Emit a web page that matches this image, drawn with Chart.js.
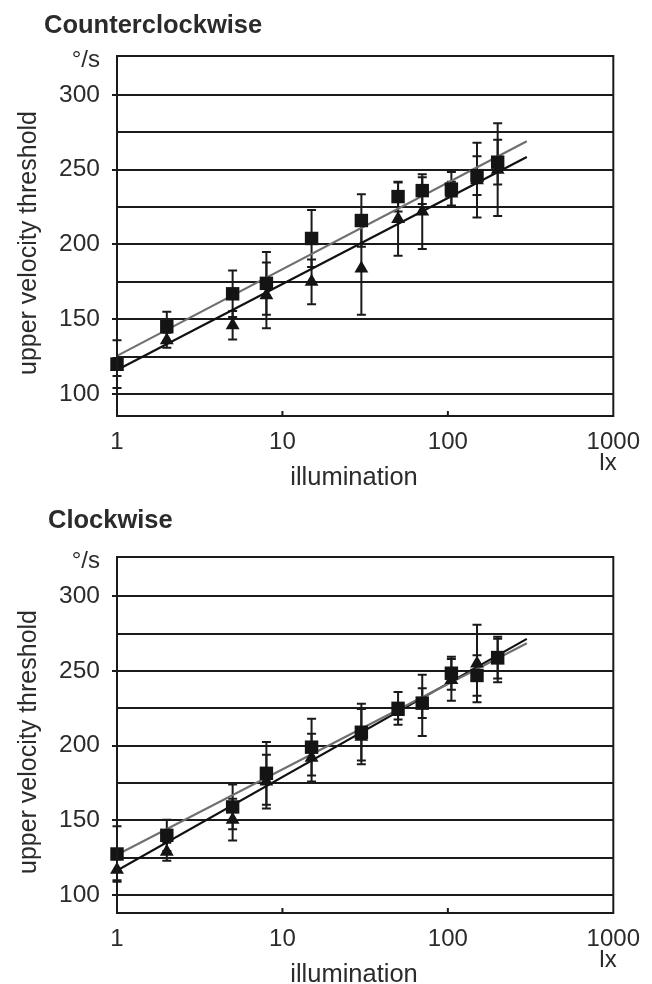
<!DOCTYPE html>
<html>
<head>
<meta charset="utf-8">
<script src="https://cdn.jsdelivr.net/npm/chart.js@4.4.1/dist/chart.umd.min.js"></script>
<style>
  body { margin: 0; background: #fff; }
  .box { position: absolute; left: 0; width: 652px; height: 492px; }
</style>
</head>
<body>
<div class="box" style="top:0"><canvas id="ccw" width="652" height="492"></canvas></div>
<div class="box" style="top:492px"><canvas id="cw" width="652" height="492"></canvas></div>
<script>
// illumination levels (lx)
const lux = [1, 2, 5, 8, 15, 30, 50, 70, 105, 150, 200];

// Counterclockwise
const ccwSquare = [120, 145, 167, 174, 204, 216, 232, 236, 237, 246, 255];
const ccwSquareErr = [16, 10, 15.5, 21, 19, 17.5, 10, 9, 11.5, 13, 15];
const ccwTriangle = [118, 136, 146, 166, 175, 184, 217, 222, 234, 243, 250];
const ccwTriangleErr = [6, 5, 9.5, 22, 15, 31, 24.5, 25, 8, 25, 31];
const ccwFitSquare = [125.5, 269];
const ccwFitTriangle = [116, 258.5];

// Clockwise
const cwSquare = [127.5, 140, 159, 181.5, 199, 209, 225, 228.5, 248.5, 247, 259];
const cwSquareErr = [18.5, 10.5, 15, 21, 19, 19, 11, 10, 11, 13.5, 14];
const cwTriangle = [117, 129, 150.5, 176, 192, 206, 222.5, 227, 244, 255, 257];
const cwTriangleErr = [7, 6, 14, 18, 16, 18.5, 5, 20.5, 14, 26, 14.5];
const cwFitSquare = [127, 268.5];
const cwFitTriangle = [116.5, 271.5];

const fitLux = [1, 300];
const xTickValues = [1, 10, 100, 1000];
const yLabelStep = 50;

Chart.defaults.font.family = '"Liberation Sans", Arial, sans-serif';
const INK = '#1a1a1a';
const TEXT = '#2b2b2b';

const pts = (xs, ys) => xs.map((x, i) => ({ x: x, y: ys[i] }));

// error bars, frame, small x ticks and the loose texts
const decor = {
  id: 'decor',
  beforeDatasetsDraw(chart) {
    const ctx = chart.ctx, xs = chart.scales.x, ys = chart.scales.y;
    ctx.save();
    ctx.strokeStyle = INK;
    ctx.lineWidth = 2;
    chart.data.datasets.forEach(ds => {
      if (!ds.errors) return;
      ds.data.forEach((p, i) => {
        const px = xs.getPixelForValue(p.x);
        const top = ys.getPixelForValue(p.y + ds.errors[i]);
        const bot = ys.getPixelForValue(p.y - ds.errors[i]);
        ctx.beginPath();
        ctx.moveTo(px, top); ctx.lineTo(px, bot);
        ctx.moveTo(px - 4.5, top); ctx.lineTo(px + 4.5, top);
        ctx.moveTo(px - 4.5, bot); ctx.lineTo(px + 4.5, bot);
        ctx.stroke();
      });
    });
    ctx.restore();
  },
  afterDraw(chart) {
    const ctx = chart.ctx, a = chart.chartArea, xs = chart.scales.x;
    const o = chart.options.plugins.decor;
    ctx.save();
    ctx.strokeStyle = INK;
    ctx.lineWidth = 2;
    ctx.strokeRect(a.left, a.top, a.right - a.left, a.bottom - a.top);
    ctx.beginPath();
    [10, 100].forEach(v => {
      const px = xs.getPixelForValue(v);
      ctx.moveTo(px, a.bottom); ctx.lineTo(px, a.bottom - 5);
    });
    ctx.stroke();

    ctx.fillStyle = TEXT;
    ctx.font = 'bold 25.5px "Liberation Sans", Arial, sans-serif';
    ctx.textAlign = 'left';
    ctx.textBaseline = 'alphabetic';
    ctx.fillText(o.title, o.titleX, o.titleY);

    ctx.font = '24px "Liberation Sans", Arial, sans-serif';
    ctx.textAlign = 'right';
    ctx.fillText('°/s', 100, a.top + 11);
    ctx.textAlign = 'center';
    ctx.fillText('lx', 608, a.bottom + 54);
    ctx.font = '25.5px "Liberation Sans", Arial, sans-serif';
    ctx.fillText('illumination', 354, a.bottom + 69);

    ctx.translate(29, (a.top + a.bottom) / 2 + 7);
    ctx.rotate(-Math.PI / 2);
    ctx.textBaseline = 'middle';
    ctx.font = '25px "Liberation Sans", Arial, sans-serif';
    ctx.fillText('upper velocity threshold', 0, 0);
    ctx.restore();
  }
};

function makeChart(id, opts) {
  return new Chart(document.getElementById(id), {
    type: 'scatter',
    data: {
      datasets: [
        {
          label: 'square',
          data: pts(lux, opts.square),
          errors: opts.squareErr,
          pointStyle: 'rect',
          pointRadius: 9.5,
          backgroundColor: '#141414',
          borderColor: '#141414',
          borderWidth: 0,
          clip: false,
          order: 0
        },
        {
          label: 'triangle',
          data: pts(lux, opts.triangle),
          errors: opts.triangleErr,
          pointStyle: 'triangle',
          pointRadius: 8,
          backgroundColor: '#141414',
          borderColor: '#141414',
          borderWidth: 0,
          clip: false,
          order: 1
        },
        {
          label: 'fit square',
          data: pts(fitLux, opts.fitSquare),
          showLine: true,
          pointRadius: 0,
          borderColor: '#6f6f6f',
          borderWidth: 2.2,
          order: 2
        },
        {
          label: 'fit triangle',
          data: pts(fitLux, opts.fitTriangle),
          showLine: true,
          pointRadius: 0,
          borderColor: '#111',
          borderWidth: 2.2,
          order: 3
        }
      ]
    },
    options: {
      responsive: false,
      animation: false,
      layout: { padding: { top: opts.padTop, right: 38, left: 0, bottom: 0 } },
      plugins: {
        legend: { display: false },
        tooltip: { enabled: false },
        decor: { title: opts.title, titleX: opts.titleX, titleY: opts.titleY }
      },
      scales: {
        x: {
          type: 'logarithmic',
          min: 1,
          max: 1000,
          afterBuildTicks: s => { s.ticks = xTickValues.map(v => ({ value: v })); },
          afterFit: s => { s.height = opts.axisH; },
          grid: { display: false, drawTicks: false },
          border: { display: false },
          ticks: {
            autoSkip: false,
            maxRotation: 0,
            padding: 12,
            color: TEXT,
            font: { size: 24 },
            callback: v => String(v)
          }
        },
        y: {
          min: opts.yMin,
          max: opts.yMax,
          afterBuildTicks: s => { s.ticks = s.ticks.filter(t => t.value >= 100 && t.value <= 300); },
          afterFit: s => { s.width = 117; },
          border: { display: false },
          grid: {
            color: INK,
            lineWidth: 2,
            tickLength: 5,
            tickColor: c => (c.tick && c.tick.value % yLabelStep === 0) ? INK : 'rgba(0,0,0,0)'
          },
          ticks: {
            stepSize: 25,
            includeBounds: false,
            padding: 12,
            color: TEXT,
            font: { size: 24.5 },
            callback: v => (v % yLabelStep === 0 ? String(v) : '')
          }
        }
      }
    },
    plugins: [decor]
  });
}

makeChart('ccw', {
  title: 'Counterclockwise', titleX: 44, titleY: 33,
  square: ccwSquare, squareErr: ccwSquareErr,
  triangle: ccwTriangle, triangleErr: ccwTriangleErr,
  fitSquare: ccwFitSquare, fitTriangle: ccwFitTriangle,
  yMin: 85.3, yMax: 326, padTop: 56, axisH: 76
});

makeChart('cw', {
  title: 'Clockwise', titleX: 48, titleY: 36,
  square: cwSquare, squareErr: cwSquareErr,
  triangle: cwTriangle, triangleErr: cwTriangleErr,
  fitSquare: cwFitSquare, fitTriangle: cwFitTriangle,
  yMin: 88, yMax: 326.3, padTop: 65, axisH: 71
});
</script>
</body>
</html>
